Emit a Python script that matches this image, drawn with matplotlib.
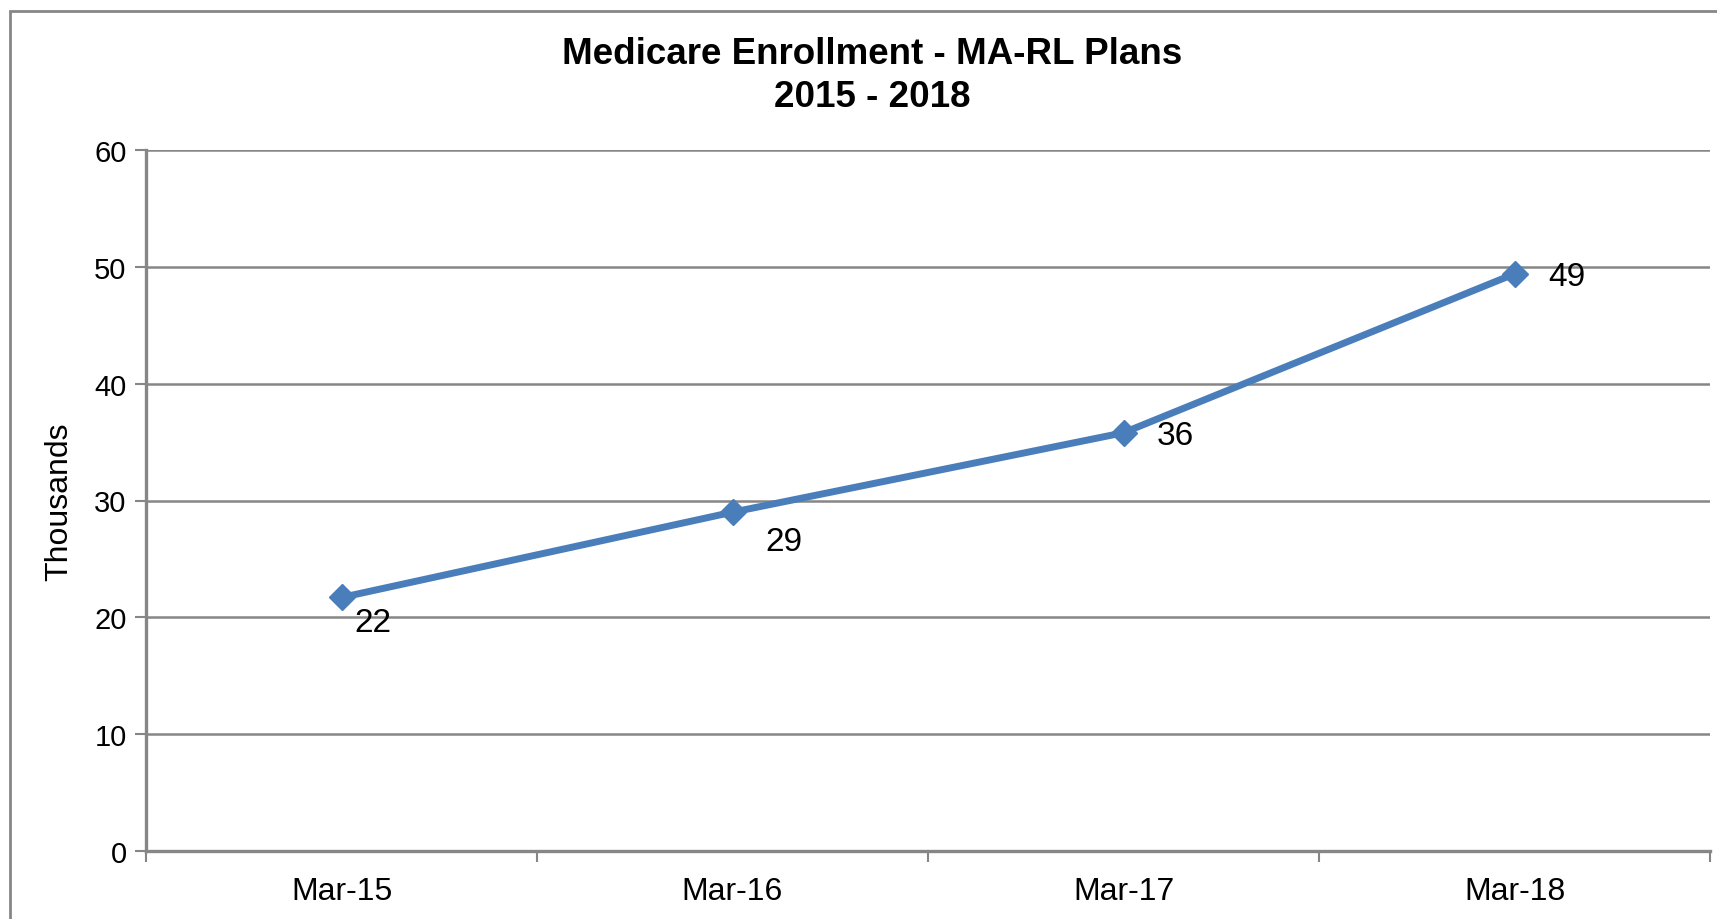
import matplotlib.pyplot as plt
from matplotlib.patches import Rectangle

months = ["Mar-15", "Mar-16", "Mar-17", "Mar-18"]
enrollment = [21.7, 29.0, 35.8, 49.4]
point_labels = ["22", "29", "36", "49"]

plt.rcParams['font.family'] = ['Liberation Sans', 'DejaVu Sans']

blue = "#4A7EBB"
grey = "#868686"

fig = plt.figure(figsize=(17.17, 9.2), dpi=100)
ax = fig.add_axes([146 / 1717, 1 - 852 / 920, (1710 - 146) / 1717, (852 - 151) / 920])

# outer chart-area border (right/bottom edges run off the image)
fig.patches.append(Rectangle((10 / 1717, -0.05), 1.2, 1 - 12 / 920 + 0.05,
                             transform=fig.transFigure, fill=False,
                             edgecolor=grey, linewidth=2))

x = list(range(len(months)))
ax.plot(x, enrollment, color=blue, linewidth=5, marker="D", markersize=13,
        markeredgecolor=blue, zorder=3)

# data labels, placed as in the original
offsets = [(9, -18), (24, -21), (24, -2), (24, -2)]
for xi, yi, lab, (dx, dy) in zip(x, enrollment, point_labels, offsets):
    ax.annotate(lab, (xi, yi), xytext=(dx, dy), textcoords="offset points",
                ha="left", va="center", fontsize=24, color="black")

ax.set_xlim(-0.5, 3.5)
ax.set_ylim(0, 60)
ax.set_yticks(range(0, 61, 10))
ax.set_xticks(x)
ax.set_xticklabels(months)
ax.set_xticks([-0.5, 0.5, 1.5, 2.5, 3.5], minor=True)
ax.tick_params(axis="x", which="major", length=0, labelsize=23, pad=18)
ax.tick_params(axis="x", which="minor", length=8, width=1.5, color=grey, direction="out")
ax.tick_params(axis="y", length=8, width=1.5, color=grey, direction="out",
               labelsize=21, pad=6)

ax.grid(axis="y", color=grey, linewidth=1.8)
ax.set_axisbelow(True)
for side in ["top", "right"]:
    ax.spines[side].set_visible(False)
for side in ["left", "bottom"]:
    ax.spines[side].set_color(grey)
    ax.spines[side].set_linewidth(2.4)

ax.set_ylabel("Thousands", fontsize=23, labelpad=14)

fig.text(0.508, 1 - 54 / 920, "Medicare Enrollment - MA-RL Plans", ha="center", va="center",
         fontsize=26.5, fontweight="bold")
fig.text(0.508, 1 - 98 / 920, "2015 - 2018", ha="center", va="center",
         fontsize=26.5, fontweight="bold")

fig.savefig("out.png", dpi=100)
